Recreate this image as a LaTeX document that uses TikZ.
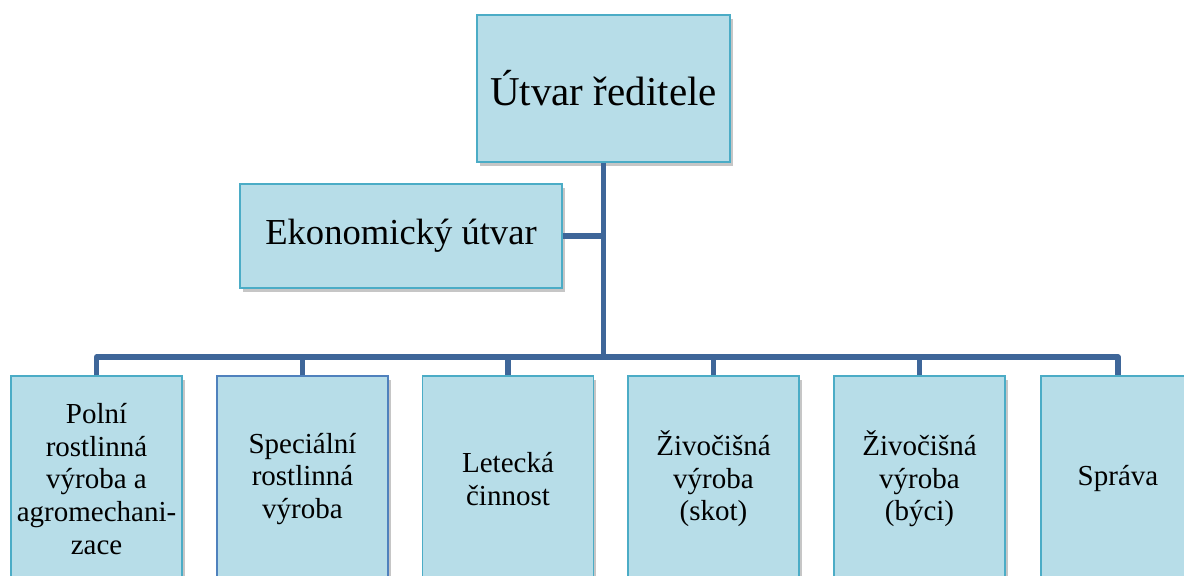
\documentclass[tikz,border=0pt]{standalone}
\usepackage{fontspec}
\setmainfont{Liberation Serif}
\usepackage{tikz}
\usetikzlibrary{positioning,shadows}
\usepackage{xcolor}
\definecolor{boxfill}{RGB}{183,221,232}
\definecolor{boxline}{RGB}{75,172,198}
\definecolor{boxlineb}{RGB}{79,129,189}
\definecolor{connline}{RGB}{62,102,153}

\begin{document}
\begin{tikzpicture}[x=0.5pt,y=-0.5pt,
	unit/.style={draw=boxline, line width=0.8pt, fill=boxfill, align=center, inner sep=2pt,
		drop shadow={opacity=0.45, shadow xshift=1.3pt, shadow yshift=-1.8pt}},
	dept/.style={unit, minimum width=85.5pt, minimum height=103pt, font=\fontsize{14.5}{16.3}\selectfont},
	conn/.style={draw=connline, line width=2.6pt, line join=round}]
\useasboundingbox (0,0) rectangle (1184,576);
\node[unit, minimum width=126.5pt, minimum height=73.5pt, font=\fontsize{20.5}{24}\selectfont] (head) at (603.5,88.5) {Útvar ředitele};
\node[unit, minimum width=161pt, minimum height=52pt, font=\fontsize{18.3}{22}\selectfont] (econ) at (401,236) {Ekonomický útvar};
\coordinate (bus) at (603.5,357);
\node[dept] (d1) at (96.5,479) {Polní\\rostlinná\\výroba a\\agromechani-\\zace};
\node[dept, draw=boxlineb] (d2) at (302.5,479) {Speciální\\rostlinná\\výroba};
\node[dept] (d3) at (508,479) {Letecká\\činnost};
\node[dept] (d4) at (713.5,479) {Živočišná\\výroba\\(skot)};
\node[dept] (d5) at (919.5,479) {Živočišná\\výroba\\(býci)};
\node[dept, minimum width=77pt] (d6) at (1118,479) {Správa};
\draw[conn] (head.south) -- (bus);
\draw[conn] (econ.east) -- (econ.east -| head.south);
\draw[conn] (d1.north) -- (d1.north |- bus) -- (d6.north |- bus) -- (d6.north);
\foreach \i in {2,...,5}
	\draw[conn] (d\i.north) -- (d\i.north |- bus);
\end{tikzpicture}
\end{document}
